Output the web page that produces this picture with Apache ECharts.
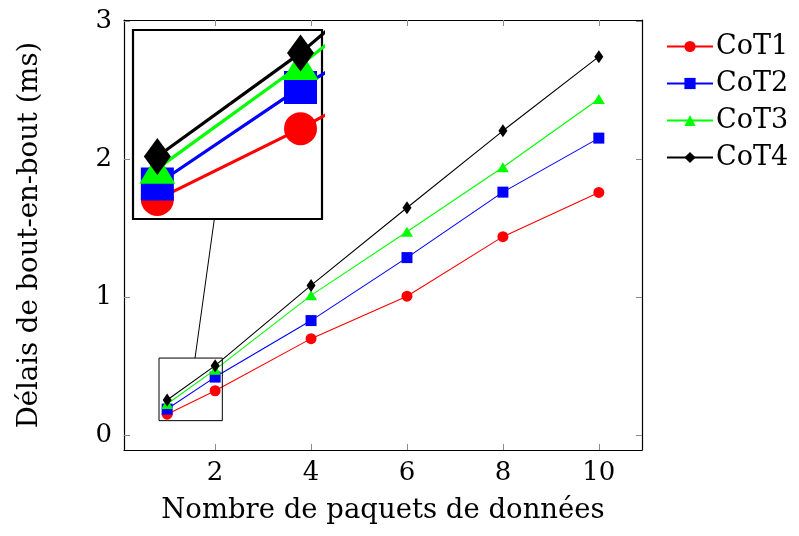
<!DOCTYPE html>
<html><head><meta charset="utf-8">
<script src="https://cdn.jsdelivr.net/npm/echarts@6/dist/echarts.min.js"></script>
<style>html,body{margin:0;padding:0;background:#fff}#c{width:799px;height:536px}</style>
</head><body><div id="c"></div>
<script>
const xValues = [1, 2, 4, 6, 8, 10];
const cot1 = [0.150, 0.320, 0.698, 1.006, 1.438, 1.759];
const cot2 = [0.187, 0.419, 0.829, 1.286, 1.761, 2.153];
const cot3 = [0.224, 0.473, 1.012, 1.473, 1.942, 2.437];
const cot4 = [0.253, 0.502, 1.084, 1.648, 2.206, 2.744];
const seriesNames = ['CoT1', 'CoT2', 'CoT3', 'CoT4'];
const xTicks = [2, 4, 6, 8, 10];
const yTicks = [0, 1, 2, 3];
const xTitle = 'Nombre de paquets de données';
const yTitle = 'Délais de bout-en-bout (ms)';

const FONT = '"DejaVu Serif", serif';
const colors = ['#ff0000', '#0000ff', '#00ff00', '#000000'];
const symbols = ['circle', 'rect', 'triangle', 'diamond'];
const sizesMain = [11, 11, [12, 10], [9, 13]];
const sizesSpy = [33, 33, [36, 30], [27, 37]];
const allData = [cot1, cot2, cot3, cot4];
const spyX = [0.83, 2.15], spyY = [0.103, 0.557];

const pairs = arr => xValues.map((x, i) => [x, arr[i]]);
const tickStyle = {show: true, inside: true, length: 6, lineStyle: {color: '#8c8c8c', width: 1}};
const axisLine = {show: true, onZero: false, lineStyle: {color: '#000', width: 1.2}};

const series = [];
allData.forEach((d, i) => {
  series.push({
    name: seriesNames[i], type: 'line', data: pairs(d), xAxisIndex: 0, yAxisIndex: 0,
    symbol: symbols[i], symbolSize: sizesMain[i], showAllSymbol: true,
    lineStyle: {color: colors[i], width: 1.1}, itemStyle: {color: colors[i]},
    emphasis: {disabled: true}, animation: false, z: 3 + i
  });
});
allData.forEach((d, i) => {
  series.push({
    name: seriesNames[i], type: 'line', data: pairs(d), xAxisIndex: 2, yAxisIndex: 2,
    symbol: symbols[i], symbolSize: sizesSpy[i], showAllSymbol: true, clip: true,
    lineStyle: {color: colors[i], width: 3.2}, itemStyle: {color: colors[i]},
    emphasis: {disabled: true}, animation: false, z: 3 + i
  });
});

const chart = echarts.init(document.getElementById('c'), null, {renderer: 'canvas'});
chart.setOption({
  animation: false,
  backgroundColor: '#fff',
  grid: [
    {left: 124, top: 20, right: 157, bottom: 86, show: false},
    {left: 133, top: 30, width: 189, height: 189, show: true, borderColor: '#000', borderWidth: 2.2, backgroundColor: 'transparent'}
  ],
  legend: {
    orient: 'vertical', left: 666, top: 33, padding: 0,
    itemWidth: 46, itemHeight: 14, itemGap: 10,
    data: seriesNames,
    textStyle: {fontFamily: FONT, fontSize: 27, color: '#000', padding: [0, 0, 0, -2]},
    selectedMode: false
  },
  xAxis: [
    {type: 'value', gridIndex: 0, min: 0.1, max: 10.9, position: 'bottom',
     axisLine: axisLine, splitLine: {show: false},
     axisTick: Object.assign({customValues: xTicks}, tickStyle),
     axisLabel: {customValues: xTicks, fontFamily: FONT, fontSize: 26, color: '#000', margin: 10},
     name: xTitle, nameLocation: 'middle', nameGap: 47,
     nameTextStyle: {fontFamily: FONT, fontSize: 27.5, color: '#000'}},
    {type: 'value', gridIndex: 0, min: 0.1, max: 10.9, position: 'top',
     axisLine: axisLine, splitLine: {show: false},
     axisTick: Object.assign({customValues: xTicks}, tickStyle),
     axisLabel: {show: false}},
    {type: 'value', gridIndex: 1, min: spyX[0], max: spyX[1], show: false}
  ],
  yAxis: [
    {type: 'value', gridIndex: 0, min: -0.11, max: 3.01, position: 'left',
     axisLine: axisLine, splitLine: {show: false},
     axisTick: Object.assign({customValues: yTicks}, tickStyle),
     axisLabel: {customValues: yTicks, fontFamily: FONT, fontSize: 26, color: '#000', margin: 12},
     name: yTitle, nameLocation: 'middle', nameGap: 80, nameRotate: 90,
     nameTextStyle: {fontFamily: FONT, fontSize: 27.5, color: '#000'}},
    {type: 'value', gridIndex: 0, min: -0.11, max: 3.01, position: 'right',
     axisLine: axisLine, splitLine: {show: false},
     axisTick: Object.assign({customValues: yTicks}, tickStyle),
     axisLabel: {show: false}},
    {type: 'value', gridIndex: 1, min: spyY[0], max: spyY[1], show: false}
  ],
  series: series
});

// spy box and connector, computed from the axes
const p0 = chart.convertToPixel({gridIndex: 0}, [spyX[0], spyY[1]]);
const p1 = chart.convertToPixel({gridIndex: 0}, [spyX[1], spyY[0]]);
const q0 = chart.convertToPixel({gridIndex: 1}, [spyX[0], spyY[1]]);
const q1 = chart.convertToPixel({gridIndex: 1}, [spyX[1], spyY[0]]);
const bc = [(p0[0] + p1[0]) / 2, (p0[1] + p1[1]) / 2];
const ic = [(q0[0] + q1[0]) / 2, (q0[1] + q1[1]) / 2];
const dy = ic[1] - bc[1], dx = ic[0] - bc[0];
const tA = (p0[1] - bc[1]) / dy;
const tB = (q1[1] - bc[1]) / dy;
chart.setOption({
  graphic: [
    {type: 'rect', shape: {x: p0[0], y: p0[1], width: p1[0] - p0[0], height: p1[1] - p0[1]},
     style: {fill: 'none', stroke: '#000', lineWidth: 1}, z: 10},
    {type: 'line', shape: {x1: bc[0] + dx * tA, y1: bc[1] + dy * tA, x2: bc[0] + dx * tB, y2: bc[1] + dy * tB},
     style: {stroke: '#000', lineWidth: 1}, z: 10}
  ]
});
</script></body></html>
